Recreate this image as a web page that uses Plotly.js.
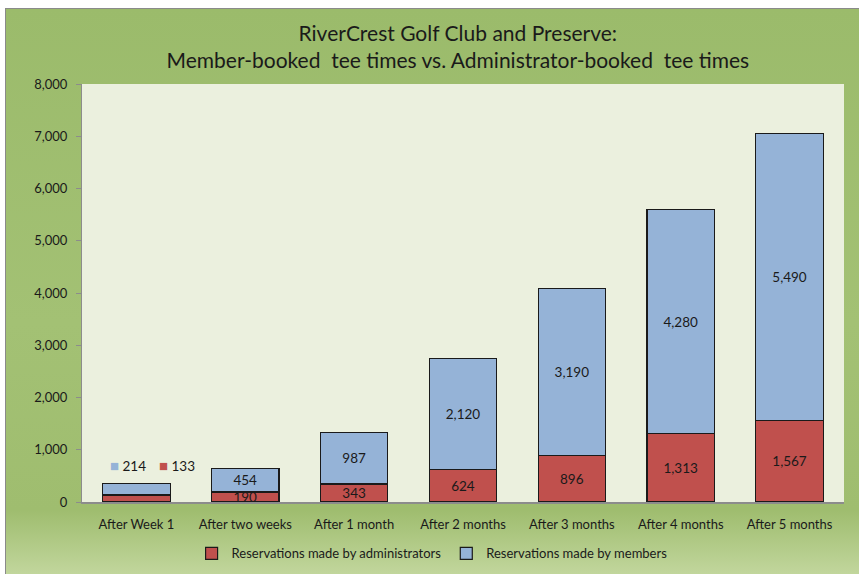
<!DOCTYPE html>
<html>
<head>
<meta charset="utf-8">
<script src="https://cdn.plot.ly/plotly-3.0.1.min.js"></script>
<style>
  html, body { margin: 0; padding: 0; background: #ffffff; }
  #frame { position: absolute; left: 5px; top: 8px; width: 860px; height: 570px;
           border: 1px solid #8a8a8a;
           background: linear-gradient(to bottom, #9bbb6b 0%, #a3c174 55%, #9fbd6f 88%, #c4d8a0 100%); }
  #chart { position: absolute; left: 0; top: 0; width: 859px; height: 574px; }
</style>
</head>
<body>
<div id="frame"></div>
<div id="chart"></div>
<script>
const categories = ["After Week 1", "After two weeks", "After 1 month", "After 2 months",
                    "After 3 months", "After 4 months", "After 5 months"];
const adminValues = [133, 190, 343, 624, 896, 1313, 1567];
const memberValues = [214, 454, 987, 2120, 3190, 4280, 5490];
const yTickValues = [0, 1000, 2000, 3000, 4000, 5000, 6000, 7000, 8000];

const fmt = v => v.toLocaleString("en-US");
const labelFont = { family: "Lato, 'Open Sans', sans-serif", size: 13.5, color: "#1a1a1a" };

const insidePos = categories.map((c, i) => i === 0 ? "none" : "inside");

const traces = [
  {
    type: "bar", name: "Reservations made by administrators",
    x: categories, y: adminValues,
    marker: { color: "#c0504d", line: { color: "#1a1a1a", width: 1.2 } },
    text: adminValues.map(fmt), textposition: insidePos, insidetextanchor: "middle",
    constraintext: "none", textfont: labelFont, hoverinfo: "x+y"
  },
  {
    type: "bar", name: "Reservations made by members",
    x: categories, y: memberValues,
    marker: { color: "#95b3d7", line: { color: "#1a1a1a", width: 1.2 } },
    text: memberValues.map(fmt), textposition: insidePos, insidetextanchor: "middle",
    constraintext: "none", textfont: labelFont, hoverinfo: "x+y"
  }
];

const firstTotal = adminValues[0] + memberValues[0];
const annotations = [
  { x: categories[0], y: firstTotal, xref: "x", yref: "y", yshift: 19, xshift: -8,
    text: "<span style='color:#95b3d7;font-size:15px'>■</span> " + fmt(memberValues[0]),
    showarrow: false, font: labelFont },
  { x: categories[0], y: firstTotal, xref: "x", yref: "y", yshift: 19, xshift: 41,
    text: "<span style='color:#c0504d;font-size:15px'>■</span> " + fmt(adminValues[0]),
    showarrow: false, font: labelFont }
];

const layout = {
  width: 859, height: 574,
  paper_bgcolor: "rgba(0,0,0,0)",
  plot_bgcolor: "#ebf0de",
  barmode: "stack",
  bargap: 0.38,
  margin: { l: 82, r: 15, t: 84, b: 72, autoexpand: false },
  font: { family: "Lato, 'Open Sans', sans-serif", color: "#1a1a1a", size: 12 },
  title: {
    text: "RiverCrest Golf Club and Preserve:<br>Member-booked  tee times vs. Administrator-booked  tee times",
    font: { family: "Lato, 'Open Sans', sans-serif", size: 21, color: "#1a1a1a" },
    xref: "container", x: 0.533, xanchor: "center",
    yref: "container", y: 0.929, yanchor: "top"
  },
  xaxis: {
    type: "category", showline: true, linecolor: "#8c8c8c", linewidth: 2,
    ticks: "", tickfont: { size: 13, color: "#1a1a1a" }, showgrid: false,
    ticklabelstandoff: 9, fixedrange: true
  },
  yaxis: {
    range: [0, 8000], tickvals: yTickValues, ticktext: yTickValues.map(fmt),
    showline: true, linecolor: "#8c8c8c", linewidth: 1,
    ticks: "outside", ticklen: 5, tickcolor: "#8c8c8c",
    showgrid: false, zeroline: false,
    tickfont: { size: 13, color: "#1a1a1a" }, ticklabelstandoff: 6
  },
  legend: {
    orientation: "h", xref: "container", x: 0.503, xanchor: "center",
    yref: "container", y: 0.036, yanchor: "middle",
    font: { size: 13, color: "#1a1a1a" }, traceorder: "normal",
    bgcolor: "rgba(0,0,0,0)", itemwidth: 30
  },
  annotations: annotations,
  showlegend: true
};

Plotly.newPlot("chart", traces, layout, { displayModeBar: false, staticPlot: true });
</script>
</body>
</html>
